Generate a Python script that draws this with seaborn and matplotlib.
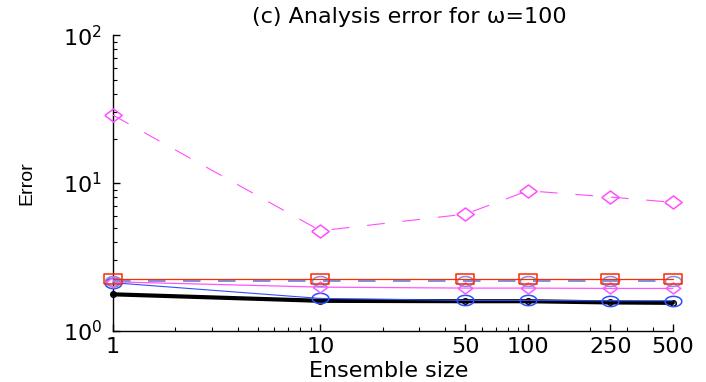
import numpy as np
import pandas as pd
import matplotlib
matplotlib.use("Agg")
import matplotlib.pyplot as plt
from matplotlib.ticker import LogLocator, NullFormatter, FixedLocator, FixedFormatter
import seaborn as sns

# Ensemble sizes on the x axis
ensemble_sizes = [1, 10, 50, 100, 250, 500]
tick_labels = ["1", "10", "50", "100", "250", "500"]

# Analysis error for each scheme
err_red_sq = [2.25, 2.25, 2.25, 2.25, 2.25, 2.25]
err_blue_dash_circ = [2.19, 2.19, 2.19, 2.19, 2.19, 2.19]
err_pink_solid_diam = [2.15, 1.98, 1.95, 1.95, 1.94, 1.94]
err_blue_solid_circ = [2.12, 1.66, 1.61, 1.61, 1.60, 1.60]
err_black_thick = [1.77, 1.60, 1.59, 1.59, 1.56, 1.55]
err_pink_dash_diam = [28.8, 4.76, 6.17, 8.87, 8.04, 7.41]

sns.set_style("ticks")
plt.rcParams["font.family"] = ["DejaVu Sans"]
plt.rcParams["mathtext.default"] = "regular"
plt.rcParams["text.color"] = "black"
plt.rcParams["axes.labelcolor"] = "black"

fig = plt.figure(figsize=(7.06, 3.82), dpi=100)
ax = fig.add_axes([0.160, 0.1335, 0.793, 0.7745])

# wide open markers
sq_marker = [(-1, -0.6), (1, -0.6), (1, 0.6), (-1, 0.6), (-1, -0.6)]
t = np.linspace(0, 2 * np.pi, 41)
ell_marker = list(zip(np.cos(t), 0.62 * np.sin(t)))
dia_marker = [(-1, 0), (0, 0.75), (1, 0), (0, -0.75), (-1, 0)]

def draw(values, color, lw, dashes=None, marker=None, ms=0, z=2):
    kw = dict(color=color, linewidth=lw, zorder=z, clip_on=False)
    if marker is not None:
        kw.update(marker=marker, markersize=ms, markerfacecolor="none",
                  markeredgecolor=color, markeredgewidth=1.1)
    line = sns.lineplot(x=ensemble_sizes, y=values, ax=ax, **kw).lines[-1]
    if dashes is not None:
        line.set_dashes(dashes)
    return line

draw(err_pink_dash_diam, "#ff4dff", 0.8, dashes=(16, 16), marker=dia_marker, ms=12.5, z=3)
draw(err_black_thick, "#000000", 3.0, marker="o", ms=4, z=2)
draw(err_blue_solid_circ, "#2f4fff", 0.8, marker=ell_marker, ms=12, z=4)
draw(err_pink_solid_diam, "#ff55ff", 0.9, marker=dia_marker, ms=10.5, z=4)
draw(err_blue_dash_circ, "#7f90e6", 1.4, dashes=(9, 9), marker=ell_marker, ms=11.5, z=5)
draw(err_red_sq, "#ff2a00", 0.9, marker=sq_marker, ms=13, z=6)

ax.set_xscale("log")
ax.set_yscale("log")
ax.set_xlim(1, 500)
ax.set_ylim(1, 100)

ax.xaxis.set_major_locator(FixedLocator(ensemble_sizes))
ax.xaxis.set_major_formatter(FixedFormatter(tick_labels))
ax.xaxis.set_minor_locator(LogLocator(base=10, subs=np.arange(2, 10)))
ax.xaxis.set_minor_formatter(NullFormatter())
ax.yaxis.set_minor_locator(LogLocator(base=10, subs=np.arange(2, 10)))
ax.yaxis.set_minor_formatter(NullFormatter())

ax.tick_params(which="both", direction="in", color="black", labelsize=16,
               labelcolor="black")
ax.tick_params(which="major", length=5, width=1)
ax.tick_params(which="minor", length=3, width=0.8)
ax.tick_params(axis="x", pad=4)
ax.tick_params(axis="y", pad=8)

sns.despine(ax=ax, top=True, right=True)
for s in ("left", "bottom"):
    ax.spines[s].set_color("black")
    ax.spines[s].set_linewidth(1.0)

ax.set_xlabel("Ensemble size", fontsize=16, color="black")
ax.xaxis.set_label_coords(0.493, -0.102)
ax.set_ylabel("Error", fontsize=14, color="black",
              family=["Liberation Sans", "DejaVu Sans"])
ax.yaxis.set_label_coords(-0.139, 0.5)
ax.text(0.530, 1.061, "(c) Analysis error for ω=100", transform=ax.transAxes,
        fontsize=16, ha="center", va="center", color="black")
ax.set_facecolor("white")
fig.patch.set_facecolor("white")

fig.savefig("out.png", dpi=100)
